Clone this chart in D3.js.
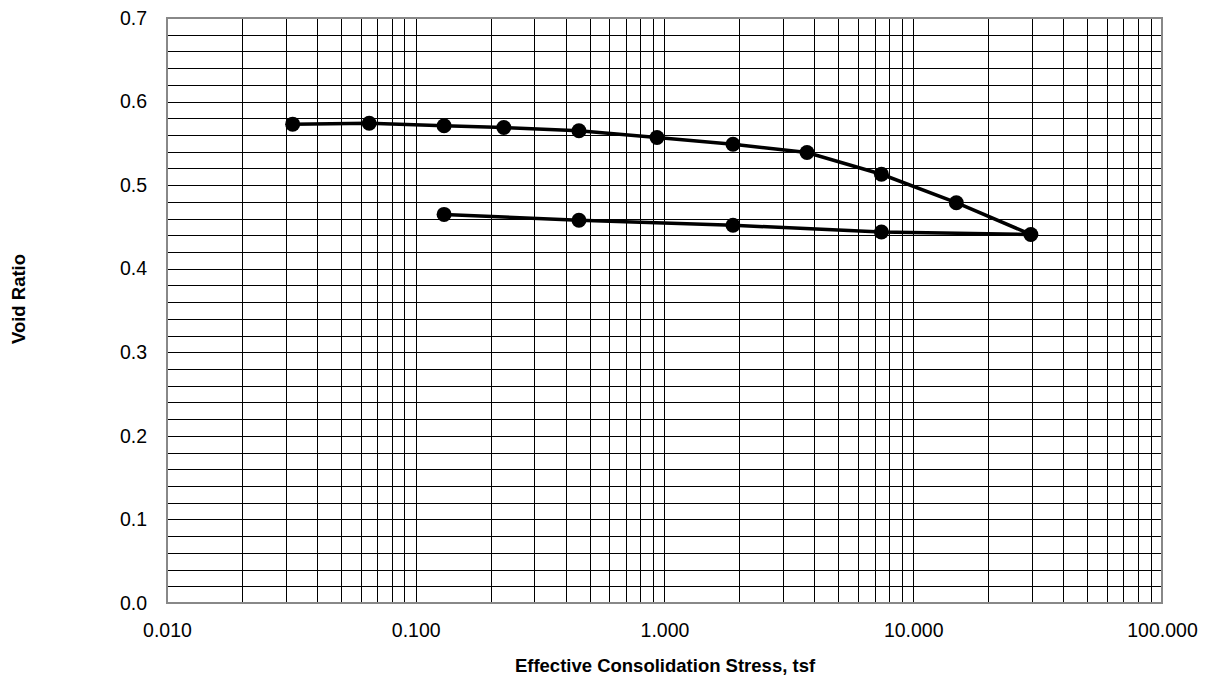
<!DOCTYPE html>
<html>
<head>
<meta charset="utf-8">
<script src="https://cdn.jsdelivr.net/npm/d3@7"></script>
<style>
html,body{margin:0;padding:0;background:#fff;}
svg text{font-family:"Liberation Sans",Arial,sans-serif;fill:#000;}
</style>
</head>
<body>
<svg id="chart" width="1205" height="681"></svg>
<script>
// Loading then unloading path (stress in tsf, void ratio)
const stress = [0.032, 0.065, 0.13, 0.226, 0.453, 0.933, 1.885, 3.74, 7.45, 14.9, 29.7, 7.45, 1.885, 0.453, 0.13];
const voidRatio = [0.573, 0.574, 0.571, 0.569, 0.565, 0.557, 0.549, 0.539, 0.513, 0.479, 0.441, 0.444, 0.452, 0.458, 0.465];
const xTickValues = [0.01, 0.1, 1, 10, 100];
const xTickLabels = ["0.010", "0.100", "1.000", "10.000", "100.000"];
const yTickValues = [0, 0.1, 0.2, 0.3, 0.4, 0.5, 0.6, 0.7];
const yTickLabels = ["0.0", "0.1", "0.2", "0.3", "0.4", "0.5", "0.6", "0.7"];
const xTitle = "Effective Consolidation Stress, tsf";
const yTitle = "Void Ratio";

const svg = d3.select("#chart");
const L = 167, R = 1162, T = 18, B = 603;
const x = d3.scaleLog().domain([0.01, 100]).range([L, R]);
const y = d3.scaleLinear().domain([0, 0.7]).range([B, T]);

// minor vertical grid (1..9 per decade)
const vLines = [];
for (let e = -2; e < 2; e++) for (let m = 1; m < 10; m++) vLines.push(m * Math.pow(10, e));
svg.append("g").selectAll("line").data(vLines.filter(v => v > 0.01)).join("line")
  .attr("x1", d => Math.round(x(d)) + 0.5).attr("x2", d => Math.round(x(d)) + 0.5)
  .attr("y1", T).attr("y2", B).attr("stroke", "#000").attr("stroke-width", 1);
// horizontal grid every 0.02
const hLines = d3.range(1, 35).map(i => i * 0.02);
svg.append("g").selectAll("line").data(hLines).join("line")
  .attr("x1", L).attr("x2", R)
  .attr("y1", d => Math.round(y(d)) + 0.5).attr("y2", d => Math.round(y(d)) + 0.5)
  .attr("stroke", "#000").attr("stroke-width", 1);

// border
svg.append("rect").attr("x", L).attr("y", T).attr("width", R - L).attr("height", B - T)
  .attr("fill", "none").attr("stroke", "#888").attr("stroke-width", 2);

// axes
const xAxis = d3.axisBottom(x).tickValues(xTickValues).tickFormat((d, i) => xTickLabels[i]).tickSize(0).tickPadding(20);
const gx = svg.append("g").attr("transform", `translate(0,${B})`).call(xAxis);
gx.select(".domain").remove();
gx.selectAll("text").attr("font-size", 19.5).attr("font-family", "Liberation Sans, Arial, sans-serif");

const yAxis = d3.axisLeft(y).tickValues(yTickValues).tickFormat((d, i) => yTickLabels[i]).tickSize(0).tickPadding(20);
const gy = svg.append("g").attr("transform", `translate(${L},0)`).call(yAxis);
gy.select(".domain").remove();
gy.selectAll("text").attr("font-size", 19.5).attr("font-family", "Liberation Sans, Arial, sans-serif");

// titles
svg.append("text").attr("x", 665).attr("y", 672).attr("text-anchor", "middle")
  .attr("font-size", 18.5).attr("font-weight", "bold").text(xTitle);
svg.append("text").attr("transform", "translate(25,299) rotate(-90)").attr("text-anchor", "middle")
  .attr("font-size", 18.5).attr("font-weight", "bold").text(yTitle);

// data
const line = d3.line().x((d, i) => x(stress[i])).y((d, i) => y(voidRatio[i]));
svg.append("path").datum(stress).attr("d", line).attr("fill", "none").attr("stroke", "#000").attr("stroke-width", 3.5);
svg.append("g").selectAll("circle").data(stress).join("circle")
  .attr("cx", (d, i) => x(d)).attr("cy", (d, i) => y(voidRatio[i])).attr("r", 7.5).attr("fill", "#000");
</script>
</body>
</html>
